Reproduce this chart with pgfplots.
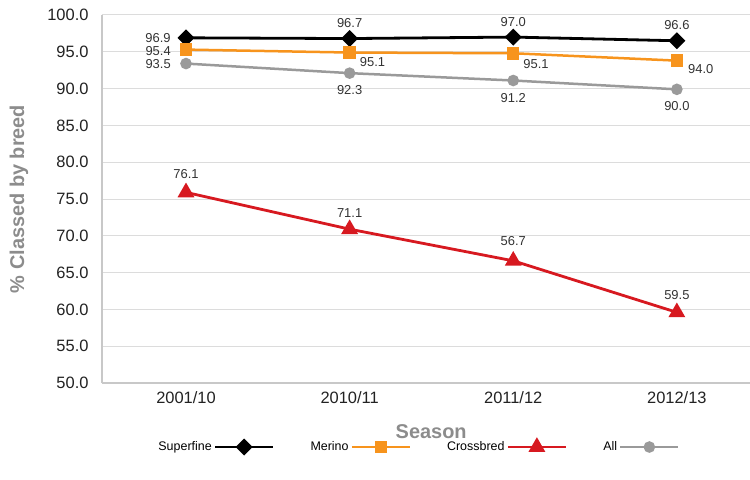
\documentclass[border=0pt]{standalone}
\usepackage{fontspec}
\setmainfont{Liberation Sans}
\usepackage{pgfplots}
\pgfplotsset{compat=1.18}
\definecolor{merc}{HTML}{F7941D}
\definecolor{crc}{HTML}{D71920}
\definecolor{allc}{HTML}{9A9A9A}
\definecolor{titc}{HTML}{8C8C8C}
\definecolor{gridc}{HTML}{DCDCDC}
\definecolor{axc}{HTML}{C8C8C8}
\definecolor{tickc}{HTML}{222222}
\definecolor{labc}{HTML}{333333}
\begin{document}
\begin{tikzpicture}
\useasboundingbox (-102bp,-97bp) rectangle (648bp,383bp);
\begin{axis}[
  scale only axis, width=648bp, height=368bp,
  xmin=-0.5134, xmax=3.447, ymin=50, ymax=100,
  axis x line*=bottom, axis y line*=left,
  axis line style={axc, line width=1.2bp, -},
  major tick length=0pt,
  xtick={0,1,2,3}, xticklabels={2001/10,2010/11,2011/12,2012/13},
  ytick={50,55,...,100},
  ymajorgrids, grid style={gridc, line width=1bp},
  /pgf/number format/assume math mode=true,
  yticklabel={\pgfmathprintnumber[fixed,fixed zerofill,precision=1]{\tick}},
  yticklabel style={font=\fontsize{16.5}{18}\selectfont, color=tickc, xshift=-10bp},
  xticklabel style={font=\fontsize{16.5}{18}\selectfont, color=tickc, yshift=-5bp},
  xlabel={Season},
  xlabel style={font=\fontsize{20}{24}\selectfont\bfseries, color=titc, at={(axis description cs:0.508,-0.133)}, anchor=center},
  ylabel={\% Classed by breed},
  ylabel style={font=\fontsize{20}{24}\selectfont\bfseries, color=titc, at={(axis description cs:-0.128,0.5)}, anchor=center},
  nodes near coords, point meta=explicit symbolic,
  visualization depends on={value \thisrow{anc}\as\myanc},
  visualization depends on={value \thisrow{xs}\as\myxs},
  visualization depends on={value \thisrow{ys}\as\myys},
  nodes near coords style={anchor=\myanc, xshift=\myxs bp, yshift=\myys bp, inner sep=0pt, font=\fontsize{13}{15}\selectfont, color=labc},
  legend columns=4, legend plot pos=right,
  legend style={at={(axis description cs:0.4877,-0.174)}, anchor=center, draw=none, fill=none, font=\fontsize{12.5}{14}\selectfont, /tikz/every even column/.append style={column sep=34bp}},
  legend image code/.code={\draw[mark repeat=2,mark phase=2,#1] plot coordinates {(0bp,0bp)(29bp,0bp)(58bp,0bp)};},
]
\addplot[black, line width=2.8bp, mark=square*, mark size=4.6bp, mark options={rotate=45, solid}] table[x=x,y=y,meta=lab] {
x y lab anc xs ys
0 96.9 96.9 east -14 0
1 96.8 96.7 south 0 9.5
2 97.0 97.0 south 0 9.5
3 96.5 96.6 south 0 9.5
};
\addlegendentry{Superfine}
\addplot[merc, line width=2.5bp, mark=square*, mark size=5bp] table[x=x,y=y,meta=lab] {
x y lab anc xs ys
0 95.3 95.4 east -14 -1.5
1 94.9 95.1 {north west} 9 -4
2 94.8 95.1 {north west} 9 -4.5
3 93.8 94.0 {north west} 10 -3
};
\addlegendentry{Merino}
\addplot[crc, line width=2.8bp, mark=triangle*, mark size=7bp] table[x=x,y=y,meta=lab] {
x y lab anc xs ys
0 75.9 76.1 south 0 12
1 70.9 71.1 south 0 10.5
2 66.6 56.7 south 0 13.5
3 59.6 59.5 south 0 11.5
};
\addlegendentry{Crossbred}
\addplot[allc, line width=2.5bp, mark=*, mark size=4.5bp] table[x=x,y=y,meta=lab] {
x y lab anc xs ys
0 93.4 93.5 east -14 0
1 92.1 92.3 north 0 -11
2 91.1 91.2 north 0 -12
3 89.9 90.0 north 0 -10.5
};
\addlegendentry{All}
\end{axis}
\end{tikzpicture}
\end{document}
